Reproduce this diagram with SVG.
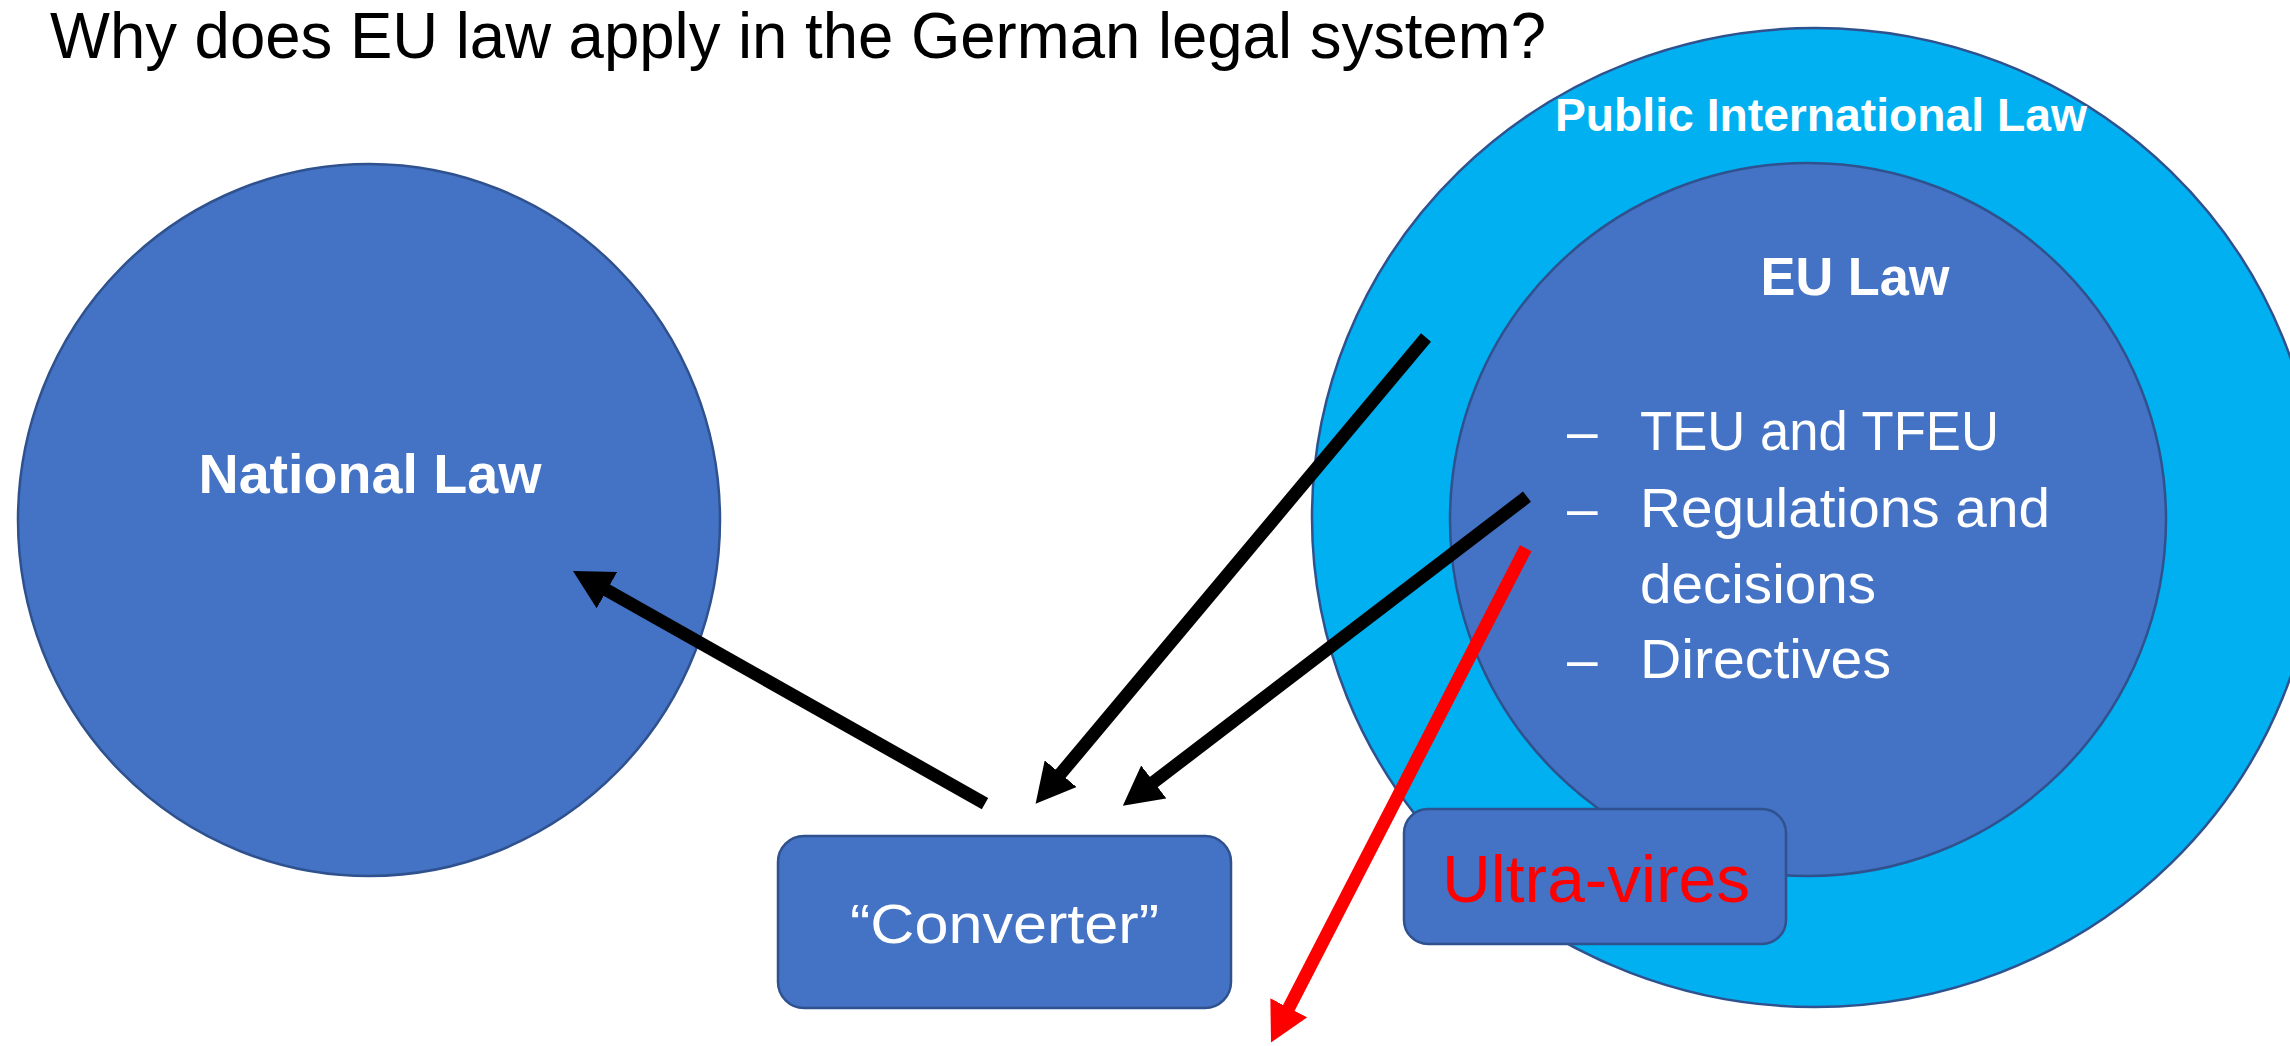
<svg xmlns="http://www.w3.org/2000/svg" width="2290" height="1046" viewBox="0 0 2290 1046">
<style>
.node{fill:#4472C4;stroke:#2F528F;stroke-width:2.5}
.outer{fill:#00B0F0;stroke:#2F528F;stroke-width:2.5}
.t{font-family:"Liberation Sans",Arial,sans-serif}
.wb{fill:#FFFFFF;font-weight:bold}
.w{fill:#FFFFFF}
.blk{stroke:#000000;stroke-width:13;fill:none;stroke-linecap:butt}
.red{stroke:#FF0000;stroke-width:13;fill:none;stroke-linecap:butt}
</style>
<defs>
<marker id="ahB" viewBox="0 0 3 3.2" refX="1" refY="1.6" markerWidth="3" markerHeight="3.2" markerUnits="strokeWidth" orient="auto">
<path d="M0,0 L3,1.6 L0,3.2 z" fill="#000000"/>
</marker>
<marker id="ahR" viewBox="0 0 3 3.2" refX="1" refY="1.6" markerWidth="3" markerHeight="3.2" markerUnits="strokeWidth" orient="auto">
<path d="M0,0 L3,1.6 L0,3.2 z" fill="#FF0000"/>
</marker>
</defs>
<rect width="2290" height="1046" fill="#FFFFFF"/>
<g id="title">
<text class="t" x="50" y="58" font-size="64" fill="#000000" textLength="1496" lengthAdjust="spacingAndGlyphs">Why does EU law apply in the German legal system?</text>
</g>
<g id="national-law">
<ellipse class="node" cx="369" cy="520" rx="351" ry="356"/>
<text class="t wb" x="370" y="493" font-size="56" text-anchor="middle" textLength="343" lengthAdjust="spacingAndGlyphs">National Law</text>
</g>
<g id="public-international-law">
<ellipse class="outer" cx="1815" cy="517.5" rx="503" ry="489.5"/>
<text class="t wb" x="1821" y="131" font-size="46" text-anchor="middle" textLength="532" lengthAdjust="spacingAndGlyphs">Public International Law</text>
</g>
<g id="eu-law">
<ellipse class="node" cx="1808" cy="519.5" rx="358" ry="356.5"/>
<text class="t wb" x="1855" y="295" font-size="53" text-anchor="middle" textLength="189" lengthAdjust="spacingAndGlyphs">EU Law</text>
<g class="t w" font-size="55">
<text x="1567" y="450">–</text>
<text x="1640" y="450" textLength="359" lengthAdjust="spacingAndGlyphs">TEU and TFEU</text>
<text x="1567" y="527">–</text>
<text x="1640" y="527" textLength="410" lengthAdjust="spacingAndGlyphs">Regulations and</text>
<text x="1640" y="603" textLength="236" lengthAdjust="spacingAndGlyphs">decisions</text>
<text x="1567" y="678">–</text>
<text x="1640" y="678" textLength="251" lengthAdjust="spacingAndGlyphs">Directives</text>
</g>
</g>
<g id="converter">
<rect class="node" x="778" y="836" width="453" height="172" rx="26" ry="26"/>
<text class="t w" x="1004.5" y="943" font-size="55" text-anchor="middle" textLength="309" lengthAdjust="spacingAndGlyphs">“Converter”</text>
</g>
<g id="connectors">
<line class="blk" x1="985" y1="803.6" x2="595.6" y2="583.8" marker-end="url(#ahB)"/>
<line class="blk" x1="1426" y1="337.5" x2="1052.3" y2="783.7" marker-end="url(#ahB)"/>
<line class="blk" x1="1527" y1="496.7" x2="1143.5" y2="789.9" marker-end="url(#ahB)"/>
<line class="red" x1="1525.7" y1="548.2" x2="1282.9" y2="1019.4" marker-end="url(#ahR)"/>
</g>
<g id="ultra-vires">
<rect class="node" x="1404" y="809" width="382" height="135" rx="24" ry="24"/>
<text class="t" x="1596" y="902" font-size="66" fill="#FF0000" text-anchor="middle" textLength="308" lengthAdjust="spacingAndGlyphs">Ultra-vires</text>
</g>
</svg>
